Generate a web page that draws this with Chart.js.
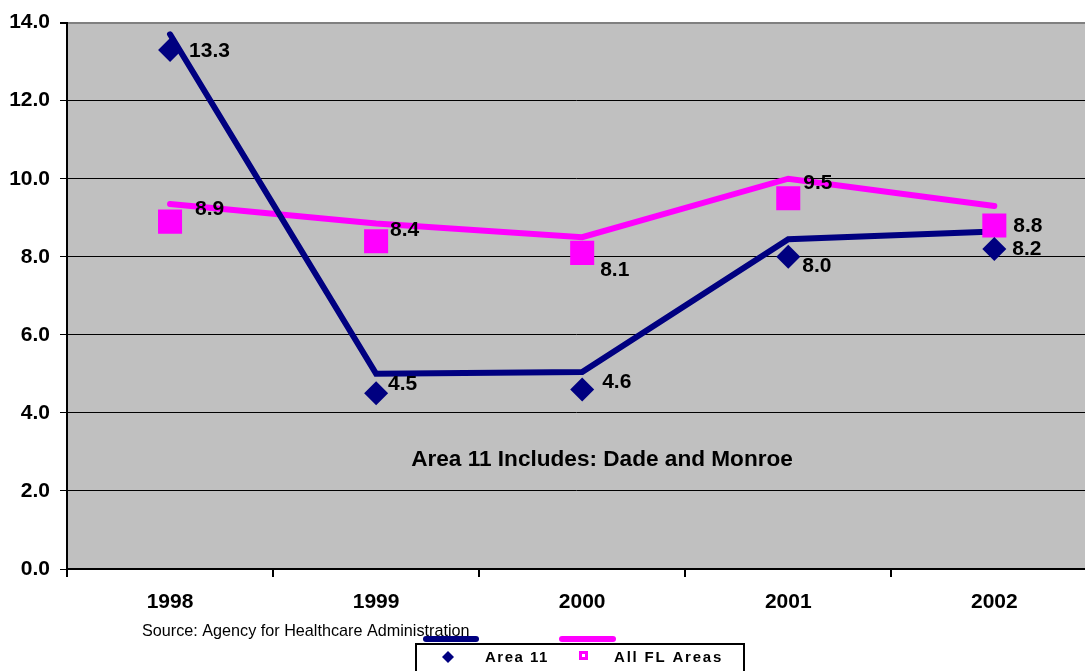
<!DOCTYPE html>
<html lang="en">
<head>
<meta charset="UTF-8">
<title>Area 11 vs All FL Areas</title>
<script src="https://cdn.jsdelivr.net/npm/chart.js"></script>
<style>
  html, body { margin: 0; padding: 0; background: #fff; overflow: hidden; }
  #chart { display: block; }
</style>
</head>
<body>
<canvas id="chart" width="1085" height="671"></canvas>
<script>
// data
const years = ['1998', '1999', '2000', '2001', '2002'];
const area11 = [13.3, 4.5, 4.6, 8.0, 8.2];
const allFL = [8.9, 8.4, 8.1, 9.5, 8.8];
// the drawn lines sit a little above the markers in the original
const area11Line = [13.7, 5.0, 5.05, 8.45, 8.65];
const allFLLine = [9.35, 8.85, 8.5, 10.0, 9.3];
const yTicks = [0, 2, 4, 6, 8, 10, 12, 14];
// category centres on x, with tick marks half way between
const xTicks = [-0.5, 0, 0.5, 1, 1.5, 2, 2.5, 3, 3.5, 4];

// label placement (dx, dy from marker centre)
const area11LabelPos = [[20, 1], [13, -9], [21, -7], [15, 9], [19, 0]];
const allFLLabelPos = [[26, -12], [15, -11], [19, 17], [16, -15], [20, 1]];

const NAVY = '#000080';
const PINK = '#FF00FF';
const FONT = '"Liberation Sans", Arial, sans-serif';

const toPoints = vals => vals.map((v, i) => ({ x: i, y: v }));

const plotBg = {
    id: 'plotBg',
    beforeDraw(chart) {
        const a = chart.chartArea, ctx = chart.ctx;
        ctx.save();
        ctx.fillStyle = '#C0C0C0';
        ctx.fillRect(a.left, a.top, a.right - a.left, a.bottom - a.top);
        ctx.restore();
    }
};

const extras = {
    id: 'extras',
    afterDatasetsDraw(chart) {
        const ctx = chart.ctx;
        ctx.save();
        // value labels
        ctx.font = 'bold 21px ' + FONT;
        ctx.fillStyle = '#000';
        ctx.textBaseline = 'middle';
        ctx.textAlign = 'left';
        [[0, area11, area11LabelPos], [1, allFL, allFLLabelPos]].forEach(([idx, vals, pos]) => {
            chart.getDatasetMeta(idx).data.forEach((pt, i) => {
                ctx.fillText(vals[i].toFixed(1), pt.x + pos[i][0] - 1, pt.y + pos[i][1]);
            });
        });
        // note in the plot
        ctx.textAlign = 'center';
        ctx.font = 'bold 22.6px ' + FONT;
        ctx.fillText('Area 11 Includes: Dade and Monroe', 602, 460);
        ctx.restore();
    },
    afterDraw(chart) {
        const ctx = chart.ctx;
        ctx.save();
        // source line
        ctx.font = '16.2px ' + FONT;
        ctx.fillStyle = '#000';
        ctx.textBaseline = 'middle';
        ctx.textAlign = 'left';
        ctx.fillText('Source: Agency for Healthcare Administration', 142, 632);

        // legend box
        ctx.fillStyle = '#fff';
        ctx.fillRect(416, 644, 328, 40);
        ctx.strokeStyle = '#000';
        ctx.lineWidth = 2;
        ctx.strokeRect(416, 644, 328, 40);

        // legend line symbols (sit above the box in the original)
        ctx.lineCap = 'round';
        ctx.lineWidth = 6;
        ctx.strokeStyle = NAVY;
        ctx.beginPath(); ctx.moveTo(426, 639); ctx.lineTo(476, 639); ctx.stroke();
        ctx.strokeStyle = PINK;
        ctx.beginPath(); ctx.moveTo(562, 639); ctx.lineTo(613, 639); ctx.stroke();

        // legend markers
        ctx.fillStyle = NAVY;
        ctx.beginPath();
        ctx.moveTo(448, 651); ctx.lineTo(454, 657); ctx.lineTo(448, 663); ctx.lineTo(442, 657);
        ctx.closePath(); ctx.fill();
        ctx.fillStyle = PINK;
        ctx.fillRect(579, 651, 9, 9);
        ctx.fillStyle = '#fff';
        ctx.fillRect(582, 654, 3, 3);

        // legend text
        ctx.fillStyle = '#000';
        ctx.font = 'bold 15px ' + FONT;
        ctx.letterSpacing = '1.5px';
        ctx.fillText('Area 11', 485, 658);
        ctx.letterSpacing = '1.8px';
        ctx.fillText('All FL Areas', 614, 658);
        ctx.restore();
    }
};

new Chart(document.getElementById('chart'), {
    type: 'line',
    data: {
        datasets: [{
            label: 'Area 11',
            data: toPoints(area11),
            showLine: false,
            pointStyle: 'rectRot',
            pointRadius: 12,
            pointBackgroundColor: NAVY,
            pointBorderWidth: 0
        }, {
            label: 'All FL Areas',
            data: toPoints(allFL),
            showLine: false,
            pointStyle: 'rect',
            pointRadius: 17,
            pointBackgroundColor: PINK,
            pointBorderWidth: 0
        }, {
            label: 'Area 11 line',
            data: toPoints(area11Line),
            borderColor: NAVY,
            borderWidth: 6,
            borderCapStyle: 'round',
            pointRadius: 0,
            tension: 0,
            fill: false
        }, {
            label: 'All FL line',
            data: toPoints(allFLLine),
            borderColor: PINK,
            borderWidth: 6,
            borderCapStyle: 'round',
            pointRadius: 0,
            tension: 0,
            fill: false
        }]
    },
    options: {
        responsive: false,
        animation: false,
        devicePixelRatio: 1,
        layout: { autoPadding: false, padding: { top: 20, right: 0, left: 0, bottom: 0 } },
        plugins: {
            legend: { display: false },
            tooltip: { enabled: false }
        },
        scales: {
            x: {
                type: 'linear',
                min: -0.5,
                max: 4.44,
                afterBuildTicks(scale) { scale.ticks = xTicks.map(v => ({ value: v })); },
                grid: {
                    drawOnChartArea: false,
                    drawTicks: true,
                    tickLength: 8,
                    lineWidth: 2,
                    tickColor: ctx => ctx.tick && Number.isInteger(ctx.tick.value) ? 'rgba(0,0,0,0)' : '#000'
                },
                border: { color: '#000', width: 2 },
                ticks: {
                    color: '#000',
                    font: { family: FONT, size: 21, weight: 'bold' },
                    padding: 13,
                    maxRotation: 0,
                    autoSkip: false,
                    callback: v => Number.isInteger(v) ? years[v] : ''
                },
                afterFit(scale) {
                    scale.height = 102;
                    scale.paddingLeft = 0;
                    scale.paddingRight = 0;
                }
            },
            y: {
                min: 0,
                max: 14,
                afterBuildTicks(scale) { scale.ticks = yTicks.map(v => ({ value: v })); },
                grid: {
                    color: ctx => ctx.tick && ctx.tick.value === 14 ? '#808080' : '#000',
                    lineWidth: ctx => ctx.tick && ctx.tick.value === 14 ? 2 : 1,
                    tickLength: 7,
                    tickColor: '#000'
                },
                border: { color: '#000', width: 2 },
                ticks: {
                    color: '#000',
                    font: { family: FONT, size: 21, weight: 'bold' },
                    padding: 10,
                    callback: v => Number(v).toFixed(1)
                },
                afterFit(scale) { scale.width = 67; }
            }
        }
    },
    plugins: [plotBg, extras]
});
</script>
</body>
</html>
